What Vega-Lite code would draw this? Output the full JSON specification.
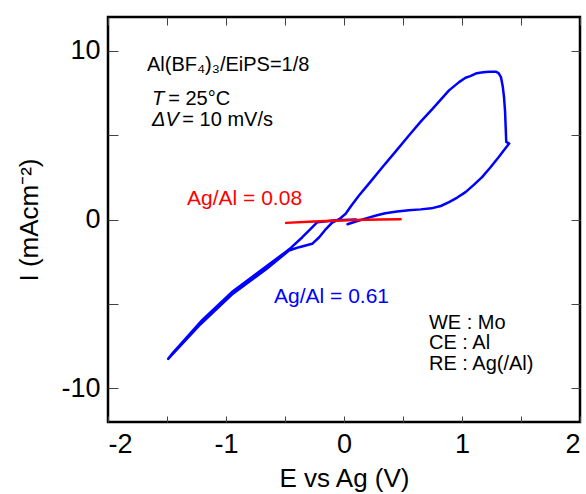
{
  "$schema": "https://vega.github.io/schema/vega-lite/v6.json",
  "width": 472,
  "height": 405,
  "autosize": {"type": "none"},
  "padding": {"left": 108, "top": 17, "right": 6, "bottom": 72},
  "background": "white",
  "config": {
    "font": "Liberation Sans",
    "view": {"stroke": "black", "strokeWidth": 2.5},
    "axis": {
      "domain": false,
      "grid": false,
      "labelFont": "Liberation Sans",
      "titleFont": "Liberation Sans",
      "labelFontSize": 27,
      "titleFontSize": 26,
      "labelColor": "black",
      "titleColor": "black",
      "titleFontWeight": "normal",
      "tickColor": "#444",
      "tickWidth": 1
    }
  },
  "datasets": {
    "curves": [
      {"s": "b", "i": 1, "E": 0.03, "I": -0.28},
      {"s": "b", "i": 2, "E": 0.10, "I": -0.12},
      {"s": "b", "i": 3, "E": 0.18, "I": 0.05},
      {"s": "b", "i": 4, "E": 0.28, "I": 0.25},
      {"s": "b", "i": 5, "E": 0.35, "I": 0.37},
      {"s": "b", "i": 6, "E": 0.45, "I": 0.48},
      {"s": "b", "i": 7, "E": 0.55, "I": 0.55},
      {"s": "b", "i": 8, "E": 0.65, "I": 0.60},
      {"s": "b", "i": 9, "E": 0.74, "I": 0.66},
      {"s": "b", "i": 10, "E": 0.82, "I": 0.80},
      {"s": "b", "i": 11, "E": 0.89, "I": 1.03},
      {"s": "b", "i": 12, "E": 0.96, "I": 1.30},
      {"s": "b", "i": 13, "E": 1.03, "I": 1.62},
      {"s": "b", "i": 14, "E": 1.10, "I": 2.05},
      {"s": "b", "i": 15, "E": 1.17, "I": 2.51},
      {"s": "b", "i": 16, "E": 1.24, "I": 3.08},
      {"s": "b", "i": 17, "E": 1.31, "I": 3.69},
      {"s": "b", "i": 18, "E": 1.36, "I": 4.15},
      {"s": "b", "i": 19, "E": 1.40, "I": 4.50},
      {"s": "b", "i": 20, "E": 1.375, "I": 4.60},
      {"s": "b", "i": 21, "E": 1.37, "I": 5.50},
      {"s": "b", "i": 22, "E": 1.365, "I": 6.40},
      {"s": "b", "i": 23, "E": 1.356, "I": 7.25},
      {"s": "b", "i": 24, "E": 1.345, "I": 7.90},
      {"s": "b", "i": 25, "E": 1.33, "I": 8.44},
      {"s": "b", "i": 26, "E": 1.31, "I": 8.68},
      {"s": "b", "i": 27, "E": 1.29, "I": 8.75},
      {"s": "b", "i": 28, "E": 1.24, "I": 8.75},
      {"s": "b", "i": 29, "E": 1.20, "I": 8.74},
      {"s": "b", "i": 30, "E": 1.15, "I": 8.70},
      {"s": "b", "i": 31, "E": 1.116, "I": 8.65},
      {"s": "b", "i": 32, "E": 1.07, "I": 8.50},
      {"s": "b", "i": 33, "E": 1.03, "I": 8.40},
      {"s": "b", "i": 34, "E": 0.975, "I": 8.14},
      {"s": "b", "i": 35, "E": 0.89, "I": 7.65},
      {"s": "b", "i": 36, "E": 0.82, "I": 7.10},
      {"s": "b", "i": 37, "E": 0.75, "I": 6.56},
      {"s": "b", "i": 38, "E": 0.65, "I": 5.80},
      {"s": "b", "i": 39, "E": 0.55, "I": 4.98},
      {"s": "b", "i": 40, "E": 0.44, "I": 4.05},
      {"s": "b", "i": 41, "E": 0.325, "I": 3.10},
      {"s": "b", "i": 42, "E": 0.22, "I": 2.20},
      {"s": "b", "i": 43, "E": 0.127, "I": 1.42},
      {"s": "b", "i": 44, "E": 0.06, "I": 0.80},
      {"s": "b", "i": 45, "E": 0.014, "I": 0.34},
      {"s": "b", "i": 46, "E": -0.04, "I": 0.02},
      {"s": "b", "i": 47, "E": -0.10, "I": -0.18},
      {"s": "b", "i": 48, "E": -0.16, "I": -0.62},
      {"s": "b", "i": 49, "E": -0.21, "I": -1.05},
      {"s": "b", "i": 50, "E": -0.27, "I": -1.44},
      {"s": "b", "i": 51, "E": -0.38, "I": -1.64},
      {"s": "b", "i": 52, "E": -0.466, "I": -1.84},
      {"s": "b", "i": 53, "E": -0.66, "I": -2.95},
      {"s": "b", "i": 54, "E": -0.95, "I": -4.45},
      {"s": "b", "i": 55, "E": -1.23, "I": -6.30},
      {"s": "b", "i": 56, "E": -1.49, "I": -8.26},
      {"s": "b", "i": 57, "E": -1.45, "I": -7.90},
      {"s": "b", "i": 58, "E": -1.20, "I": -5.95},
      {"s": "b", "i": 59, "E": -0.95, "I": -4.30},
      {"s": "b", "i": 60, "E": -0.70, "I": -3.00},
      {"s": "b", "i": 61, "E": -0.50, "I": -1.95},
      {"s": "b", "i": 62, "E": -0.46, "I": -1.74},
      {"s": "b", "i": 63, "E": -0.353, "I": -1.05},
      {"s": "b", "i": 64, "E": -0.27, "I": -0.46},
      {"s": "b", "i": 65, "E": -0.226, "I": -0.16},
      {"s": "b", "i": 66, "E": -0.07, "I": -0.04},
      {"s": "b", "i": 67, "E": 0.10, "I": 0.0},
      {"s": "r", "i": 1, "E": -0.49, "I": -0.20},
      {"s": "r", "i": 2, "E": -0.30, "I": -0.14},
      {"s": "r", "i": 3, "E": -0.10, "I": -0.07},
      {"s": "r", "i": 4, "E": 0.10, "I": -0.03},
      {"s": "r", "i": 5, "E": 0.30, "I": 0.0},
      {"s": "r", "i": 6, "E": 0.48, "I": 0.02}
    ],
    "txt": [
      {"x": -1.67, "y": 9.13, "t": "Al(BF₄)₃/EiPS=1/8", "c": "black", "f": 20},
      {"x": -1.49, "y": 7.12, "t": "= 25°C", "c": "black", "f": 20},
      {"x": -1.37, "y": 5.9, "t": "= 10 mV/s", "c": "black", "f": 20},
      {"x": -1.33, "y": 1.24, "t": "Ag/Al = 0.08", "c": "#ff0000", "f": 21},
      {"x": -0.593, "y": -4.62, "t": "Ag/Al = 0.61", "c": "#0000ff", "f": 21},
      {"x": 0.72, "y": -6.106, "t": "WE : Mo", "c": "black", "f": 20},
      {"x": 0.72, "y": -7.32, "t": "CE : Al", "c": "black", "f": 20},
      {"x": 0.72, "y": -8.536, "t": "RE : Ag(/Al)", "c": "black", "f": 20}
    ],
    "ital": [
      {"x": -1.627, "y": 7.12, "t": "T"},
      {"x": -1.627, "y": 5.9, "t": "ΔV"}
    ]
  },
  "layer": [
    {
      "data": {"name": "curves"},
      "mark": {"type": "line", "strokeWidth": 2.5, "strokeJoin": "round", "strokeCap": "round"},
      "encoding": {
        "x": {
          "field": "E", "type": "quantitative",
          "scale": {"domain": [-2, 2], "nice": false, "zero": false},
          "axis": {
            "orient": "bottom",
            "values": [-2, -1.5, -1, -0.5, 0, 0.5, 1, 1.5, 2],
            "labelExpr": "datum.value % 1 === 0 ? '' + datum.value : ''",
            "tickSize": 6,
            "offset": -6,
            "labelPadding": 9,
            "titlePadding": 8,
            "title": "E vs Ag (V)"
          }
        },
        "y": {
          "field": "I", "type": "quantitative",
          "scale": {"domain": [-12, 12], "nice": false, "zero": false},
          "axis": {
            "orient": "left",
            "values": [-10, -5, 0, 5, 10],
            "labelExpr": "datum.value % 10 === 0 ? '' + datum.value : ''",
            "tickSize": 10,
            "offset": -10,
            "labelPadding": 8,
            "titlePadding": 18,
            "title": "I (mAcm⁻²)"
          }
        },
        "color": {"field": "s", "type": "nominal", "scale": {"domain": ["b", "r"], "range": ["#0000ff", "#ff0000"]}, "legend": null},
        "order": {"field": "i", "type": "quantitative"}
      }
    },
    {
      "data": {"name": "txt"},
      "mark": {"type": "text", "align": "left", "baseline": "middle", "font": "Liberation Sans"},
      "encoding": {
        "x": {
          "field": "x", "type": "quantitative",
          "scale": {"domain": [-2, 2], "nice": false, "zero": false},
          "axis": {"orient": "top", "values": [-2, -1.5, -1, -0.5, 0, 0.5, 1, 1.5, 2], "labels": false, "tickSize": 8, "offset": -8, "title": null}
        },
        "y": {
          "field": "y", "type": "quantitative",
          "scale": {"domain": [-12, 12], "nice": false, "zero": false},
          "axis": {"orient": "right", "values": [-10, -5, 0, 5, 10], "labels": false, "tickSize": 9, "offset": -9, "title": null}
        },
        "text": {"field": "t"},
        "size": {"field": "f", "type": "quantitative", "scale": null},
        "color": {"field": "c", "type": "nominal", "scale": null}
      }
    },
    {
      "data": {"name": "ital"},
      "mark": {"type": "text", "align": "left", "baseline": "middle", "fontSize": 20, "fontStyle": "italic", "font": "Liberation Sans", "color": "black"},
      "encoding": {
        "x": {"field": "x", "type": "quantitative", "axis": null},
        "y": {"field": "y", "type": "quantitative", "axis": null},
        "text": {"field": "t"}
      }
    }
  ],
  "resolve": {"axis": {"x": "independent", "y": "independent"}}
}
